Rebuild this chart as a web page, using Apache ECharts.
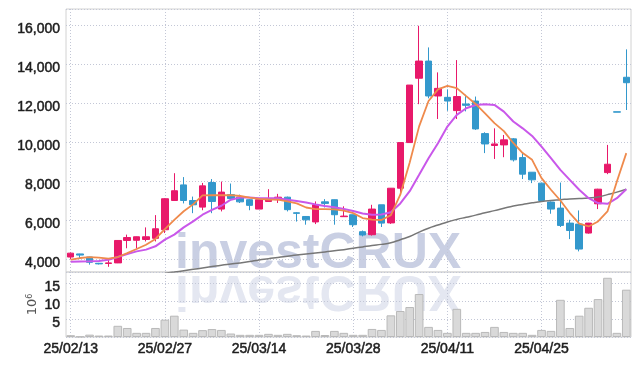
<!DOCTYPE html>
<html>
<head>
<meta charset="utf-8">
<script src="https://cdn.jsdelivr.net/npm/echarts@6/dist/echarts.min.js"></script>
<style>html,body{margin:0;padding:0;background:#fff}#c{width:639px;height:366px}</style>
</head>
<body>
<div id="c"></div>
<script>
// Categories (trading days)
const dates = [
  '25/02/13','25/02/14','25/02/17','25/02/18','25/02/19','25/02/20','25/02/21','25/02/24','25/02/25','25/02/26',
  '25/02/27','25/02/28','25/03/04','25/03/05','25/03/06','25/03/07','25/03/10','25/03/11','25/03/12','25/03/13',
  '25/03/14','25/03/17','25/03/18','25/03/19','25/03/20','25/03/21','25/03/24','25/03/25','25/03/26','25/03/27',
  '25/03/28','25/03/31','25/04/01','25/04/02','25/04/03','25/04/04','25/04/07','25/04/08','25/04/09','25/04/10',
  '25/04/11','25/04/14','25/04/15','25/04/16','25/04/17','25/04/18','25/04/21','25/04/22','25/04/23','25/04/24',
  '25/04/25','25/04/28','25/04/29','25/04/30','25/05/02','25/05/07','25/05/08','25/05/09','25/05/12','25/05/13'
];
// [open, close, low, high]
const candles = [
  [4100,4300,3980,4330],[4260,4200,4000,4270],[4100,3830,3710,4110],[3780,3750,3720,3800],[3770,3800,3600,3960],
  [3800,4950,3790,4960],[4950,5100,4550,5250],[4960,5140,4540,5150],[5000,5140,4900,5620],[5060,5550,4900,6250],
  [5500,7090,5330,7120],[7000,7500,7000,8400],[7800,7000,6850,8200],[7000,6780,6350,7200],[6660,7750,6500,7900],
  [7920,6950,6350,8100],[6560,7430,6440,7970],[7300,7100,7000,7870],[7180,6930,6870,7300],[7040,6750,6500,7070],
  [6560,7040,6560,7050],[6950,7070,6950,7580],[7040,7170,6870,7340],[7170,6530,6440,7200],[6370,6340,5920,6400],
  [6180,6010,5760,6200],[5900,6780,5790,6950],[6930,6850,6640,7070],[7040,6270,5760,7050],[6170,6200,6170,6700],
  [6270,5760,5640,6270],[5400,5230,5160,5460],[5245,6560,5200,6780],[6780,5840,5640,6780],[5850,7630,5800,7640],
  [7630,9970,7400,9970],[9970,12920,9970,12920],[13270,14150,11940,15960],[14150,12360,12240,14850],[12360,12750,11180,13570],
  [12290,12100,11600,12700],[11610,12330,11180,14200],[11950,11880,11570,12420],[12100,10670,10620,12330],[10430,9900,9430,10500],
  [9820,9900,9130,10700],[9850,10110,9220,10360],[10160,9085,9000,10200],[9200,8350,8100,9460],[8450,8060,7890,8450],
  [7890,7000,6950,7920],[6920,6560,6320,6950],[6610,5720,5640,7920],[5840,5460,5020,6010],[5790,4510,4390,6490],
  [5330,5840,5300,5850],[6830,7580,6560,7600],[8430,8860,8350,9850],[11550,11530,11530,11550],[13320,13040,11640,14750]
];
// Moving averages
const maShort = [
  3970,4050,4100,4070,4020,4100,4300,4510,4730,5030,
  5530,6010,6450,6800,7260,7270,7270,7270,7230,7150,
  7080,7050,7040,6960,6850,6640,6560,6560,6540,6480,
  6350,6100,6020,6000,6250,7300,8950,10800,12100,12700,
  12880,12760,12350,11950,11470,10970,10560,9950,9430,9085,
  8150,7550,7000,6355,5810,5670,5925,6440,7970,9430
];
const maMid = [
  3860,3870,3880,3900,3960,4100,4250,4390,4480,4650,
  4990,5250,5620,5930,6270,6520,6730,7040,7150,7150,
  7120,7120,7110,7040,6970,6900,6800,6720,6650,6560,
  6460,6330,6270,6280,6400,6850,7480,8320,9170,9940,
  10790,11390,11730,11900,11930,11900,11560,11050,10700,10310,
  9760,9170,8570,8060,7550,7120,6870,6830,7120,7580
];
const maLong = [
  null,null,null,null,null,null,null,null,null,null,
  3265,3330,3400,3470,3540,3610,3680,3740,3800,3870,
  3950,4010,4080,4140,4200,4250,4310,4360,4420,4480,
  4550,4620,4690,4750,4830,4990,5150,5380,5580,5740,
  5900,6030,6140,6250,6370,6480,6600,6720,6800,6880,
  6950,7000,7040,7080,7100,7130,7180,7300,7430,7580
];
// Volume in millions
const volume = [
  0.5,0.1,0.65,0.4,0.4,3.1,2.5,1.15,1.15,2.5,
  4.8,5.9,2.05,1.15,1.9,2.2,1.96,0.96,0.6,0.6,
  0.6,0.87,0.6,0.87,0.5,0.4,1.69,0.55,1.69,1.15,
  0.6,0.6,2.23,1.96,6.0,7.2,8.3,11.9,2.8,1.96,
  1.15,7.8,1.15,1.15,1.4,2.8,1.4,1.15,1.15,0.6,
  1.96,1.7,10.3,2.5,5.9,8.1,10.5,16.4,1.15,13.1
];

const UP = '#e8196a', DOWN = '#3398cc';
const FONT = '"Liberation Sans Narrow", "Liberation Sans", Arial, sans-serif';
const GRIDC = '#c3c7d6';
const LABEL = {fontFamily: FONT, fontSize: 14, color: '#1e1e1e', textBorderColor: '#1e1e1e', textBorderWidth: 0.5};
const chart = echarts.init(document.getElementById('c'), null, {renderer: 'canvas'});

const option = {
  animation: false,
  backgroundColor: '#ffffff',
  grid: [
    {left: 66, right: 8, top: 9, height: 263, show: true, borderColor: '#d2d2d2', borderWidth: 1},
    {left: 66, right: 8, top: 272, height: 65, show: true, borderColor: '#d2d2d2', borderWidth: 1}
  ],
  xAxis: [
    {
      type: 'category', data: dates, gridIndex: 0, boundaryGap: true,
      axisLine: {show: false}, axisTick: {show: false},
      axisLabel: {show: false, interval: 9},
      splitLine: {show: true, interval: 9, alignWithLabel: true, lineStyle: {color: GRIDC, type: [1, 2], width: 1}}
    },
    {
      type: 'category', data: dates, gridIndex: 1, boundaryGap: true,
      axisLine: {show: false}, axisTick: {show: false},
      axisLabel: Object.assign({show: true, interval: 9, margin: 5}, LABEL),
      splitLine: {show: true, interval: 9, alignWithLabel: true, lineStyle: {color: GRIDC, type: [1, 2], width: 1}}
    }
  ],
  yAxis: [
    {
      type: 'value', gridIndex: 0, min: 3333, max: 16820, splitNumber: 7,
      axisLine: {show: false}, axisTick: {show: false},
      axisLabel: Object.assign({
        showMinLabel: false, showMaxLabel: false, margin: 6,
        verticalAlign: 'top', lineHeight: 8,
        formatter: v => Math.round(v).toLocaleString('en-US')
      }, LABEL),
      splitLine: {show: true, lineStyle: {color: GRIDC, type: [1, 2], width: 1}}
    },
    {
      type: 'value', gridIndex: 1, min: 0, max: 18, interval: 5,
      axisLine: {show: false}, axisTick: {show: false},
      axisLabel: Object.assign({
        showMinLabel: false, showMaxLabel: false, margin: 6,
        verticalAlign: 'top', lineHeight: 8
      }, LABEL),
      splitLine: {show: true, lineStyle: {color: GRIDC, type: [1, 2], width: 1}},
      name: '{a|10}{b|6}', nameLocation: 'middle', nameRotate: 90, nameGap: 27,
      nameMoveOverlap: false,
      nameTextStyle: {
        rich: {
          a: {fontFamily: 'DejaVu Sans', fontSize: 13, color: '#555'},
          b: {fontFamily: 'DejaVu Sans', fontSize: 8, color: '#555', verticalAlign: 'top'}
        }
      }
    }
  ],
  graphic: [
    {
      type: 'text', x: 175, y: 272, z: 0, silent: true,
      style: {text: 'investCRUX', font: 'bold 50px "Liberation Sans", Arial, sans-serif', fill: '#c9cfe3', x: 0, y: 7.5, verticalAlign: 'bottom', align: 'left'}
    },
    {
      type: 'text', x: 175, y: 272, z: 0, silent: true, scaleY: -1,
      style: {text: 'investCRUX', font: 'bold 50px "Liberation Sans", Arial, sans-serif', fill: '#e4e7f1', x: 0, y: 7.5, verticalAlign: 'bottom', align: 'left'}
    }
  ],
  series: [
    {
      type: 'candlestick', xAxisIndex: 0, yAxisIndex: 0, data: candles, barWidth: 7,
      itemStyle: {color: UP, color0: DOWN, borderColor: UP, borderColor0: DOWN, borderWidth: 1}
    },
    {
      type: 'line', xAxisIndex: 0, yAxisIndex: 0, data: maLong, symbol: 'none', smooth: true,
      lineStyle: {color: '#777777', width: 1.5}
    },
    {
      type: 'line', xAxisIndex: 0, yAxisIndex: 0, data: maMid, symbol: 'none',
      lineStyle: {color: '#c957ea', width: 2}
    },
    {
      type: 'line', xAxisIndex: 0, yAxisIndex: 0, data: maShort, symbol: 'none',
      lineStyle: {color: '#ef8a4c', width: 1.8}
    },
    {
      type: 'bar', xAxisIndex: 1, yAxisIndex: 1, data: volume, barCategoryGap: '8%',
      itemStyle: {color: '#d9d9d9', borderColor: '#b9b9b9', borderWidth: 1}
    }
  ]
};
chart.setOption(option);
</script>
</body>
</html>
